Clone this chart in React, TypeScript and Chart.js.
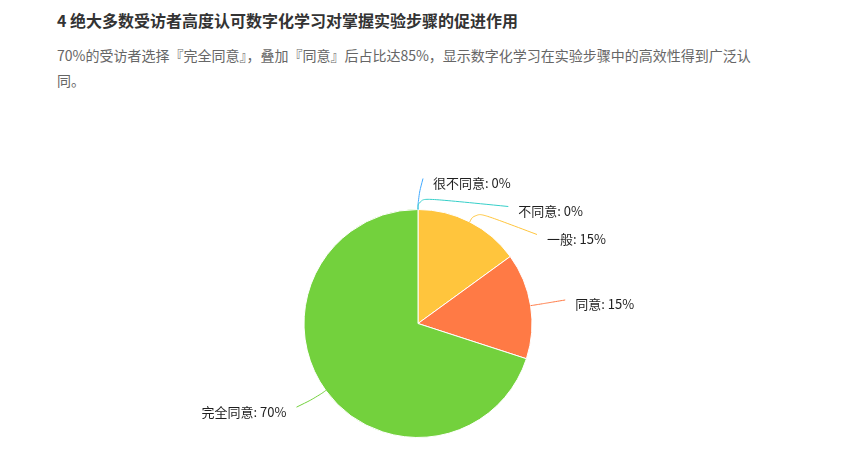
import React, { useEffect, useRef } from "react";
import { Chart, registerables } from "chart.js";

Chart.register(...registerables);

const categories = ["很不同意", "不同意", "一般", "同意", "完全同意"];
const shares = [0, 0, 15, 15, 70];
const sliceColors = ["#40A9FF", "#36CFC9", "#FFC53D", "#FF7A45", "#73D13D"];
const titleText = "4 绝大多数受访者高度认可数字化学习对掌握实验步骤的促进作用";
const subtitleLines = [
  "70%的受访者选择『完全同意』，叠加『同意』后占比达85%，显示数字化学习在实验步骤中的高效性得到广泛认",
  "同。",
];

const FONT = '"Noto Sans CJK SC", "Noto Sans", sans-serif';

// label-line layout parameters
const LABEL_LEN = 30;
const LABEL_LEN2 = 5;
const ELBOW_LEN = 12;
const TEXT_GAP = 10;
const LABEL_H = 28;
const SMOOTH = 0.55;

type Pt = [number, number];
const dist = (a: Pt, b: Pt) => Math.hypot(a[0] - b[0], a[1] - b[1]);
const lerp = (a: Pt, b: Pt, t: number): Pt => [a[0] + (b[0] - a[0]) * t, a[1] + (b[1] - a[1]) * t];

const pieLabels = {
  id: "pieLabels",
  afterDatasetsDraw(chart: any) {
    const ctx = chart.ctx as CanvasRenderingContext2D;
    const meta = chart.getDatasetMeta(0);
    const items = meta.data.map((arc: any, i: number) => {
      const p = arc.getProps(["x", "y", "startAngle", "endAngle", "outerRadius"], true);
      const mid = (p.startAngle + p.endAngle) / 2;
      const dx = Math.cos(mid);
      const dy = Math.sin(mid);
      const r = p.outerRadius;
      const dir = dx < 0 ? -1 : 1;
      const nx = p.x + (r + LABEL_LEN) * dx;
      const ny = p.y + (r + LABEL_LEN) * dy;
      return {
        i, cx: p.x, cy: p.y, r, dir,
        ax: p.x + r * dx, ay: p.y + r * dy,
        ex: p.x + (r + ELBOW_LEN) * dx, ey: p.y + (r + ELBOW_LEN) * dy,
        nx, endX: nx + dir * LABEL_LEN2, labelY: ny,
      };
    });

    [1, -1].forEach((dir) => {
      const side = items.filter((it: any) => it.dir === dir).sort((a: any, b: any) => a.labelY - b.labelY);
      if (side.length < 2) return;
      let last = -Infinity;
      let shifted = false;
      side.forEach((it: any) => {
        if (it.labelY < last + LABEL_H) {
          it.labelY = last + LABEL_H;
          shifted = true;
        }
        last = it.labelY;
      });
      if (!shifted) return;
      const cx = side[0].cx;
      const cy = side[0].cy;
      const rA = side[0].r + LABEL_LEN;
      [side.filter((it: any) => it.labelY <= cy), side.filter((it: any) => it.labelY > cy)].forEach((semi: any[]) => {
        if (!semi.length) return;
        let far = semi[0];
        semi.forEach((it) => {
          if (Math.abs(it.labelY - cy) >= Math.abs(far.labelY - cy)) far = it;
        });
        const ndx = Math.abs(far.nx - cx);
        const fdy = Math.abs(far.labelY - cy);
        const rB = ndx < rA ? Math.sqrt((fdy * fdy) / (1 - (ndx * ndx) / (rA * rA))) : rA;
        semi.forEach((it) => {
          const ddy = Math.abs(it.labelY - cy);
          it.endX = cx + dir * (rA * Math.sqrt(Math.max(0, 1 - (ddy * ddy) / (rB * rB))) + LABEL_LEN2);
        });
      });
    });

    ctx.save();
    items.forEach((it: any) => {
      const p0: Pt = [it.ax, it.ay];
      const p1: Pt = [it.ex, it.ey];
      const p2: Pt = [it.endX, it.labelY - 1];
      ctx.beginPath();
      ctx.moveTo(p0[0], p0[1]);
      const l1 = dist(p0, p1);
      const l2 = dist(p1, p2);
      if (l1 > 1e-3 && l2 > 1e-3) {
        const m = Math.min(l1, l2) * SMOOTH;
        const m0 = lerp(p1, p0, m / l1);
        const m2 = lerp(p1, p2, m / l2);
        const mm = lerp(m0, m2, 0.5);
        ctx.bezierCurveTo(m0[0], m0[1], m0[0], m0[1], mm[0], mm[1]);
        ctx.bezierCurveTo(m2[0], m2[1], m2[0], m2[1], p2[0], p2[1]);
      } else {
        ctx.lineTo(p1[0], p1[1]);
        ctx.lineTo(p2[0], p2[1]);
      }
      ctx.strokeStyle = sliceColors[it.i];
      ctx.lineWidth = 1;
      ctx.stroke();

      ctx.font = `13px ${FONT}`;
      ctx.fillStyle = "#1f1f1f";
      ctx.textAlign = it.dir > 0 ? "left" : "right";
      ctx.textBaseline = "middle";
      ctx.fillText(`${categories[it.i]}: ${shares[it.i]}%`, it.endX + it.dir * TEXT_GAP, it.labelY + 3.5);
    });
    ctx.restore();
  },
};

function PieChart() {
  const ref = useRef<HTMLCanvasElement | null>(null);
  useEffect(() => {
    if (!ref.current) return;
    const chart = new Chart(ref.current, {
      type: "pie",
      data: {
        labels: categories,
        datasets: [
          {
            data: shares,
            backgroundColor: sliceColors,
            borderColor: "#ffffff",
            borderWidth: 1,
          },
        ],
      },
      options: {
        responsive: false,
        animation: false,
        events: [],
        layout: { padding: { left: 0, right: 5, top: 201, bottom: 11 } },
        plugins: {
          legend: { display: false },
          tooltip: { enabled: false },
        },
      },
      plugins: [pieLabels],
    } as any);
    return () => chart.destroy();
  }, []);
  return (
    <canvas
      ref={ref}
      width={825}
      height={441}
      style={{ position: "absolute", left: 0, top: 0, width: 825, height: 441 }}
    />
  );
}

export default function App() {
  return (
    <div style={{ position: "relative", width: 825, height: 441, fontFamily: FONT, background: "#fff" }}>
      <div
        style={{
          position: "absolute",
          left: 49,
          top: 0,
          fontSize: 16,
          lineHeight: "24px",
          fontWeight: 700,
          color: "#333",
          whiteSpace: "nowrap",
        }}
      >
        {titleText}
      </div>
      <div
        style={{
          position: "absolute",
          left: 49,
          top: 35,
          fontSize: 14,
          lineHeight: "25px",
          color: "#666",
        }}
      >
        {subtitleLines.map((l, i) => (
          <div key={i} style={{ whiteSpace: "nowrap" }}>
            {l}
          </div>
        ))}
      </div>
      <PieChart />
    </div>
  );
}
